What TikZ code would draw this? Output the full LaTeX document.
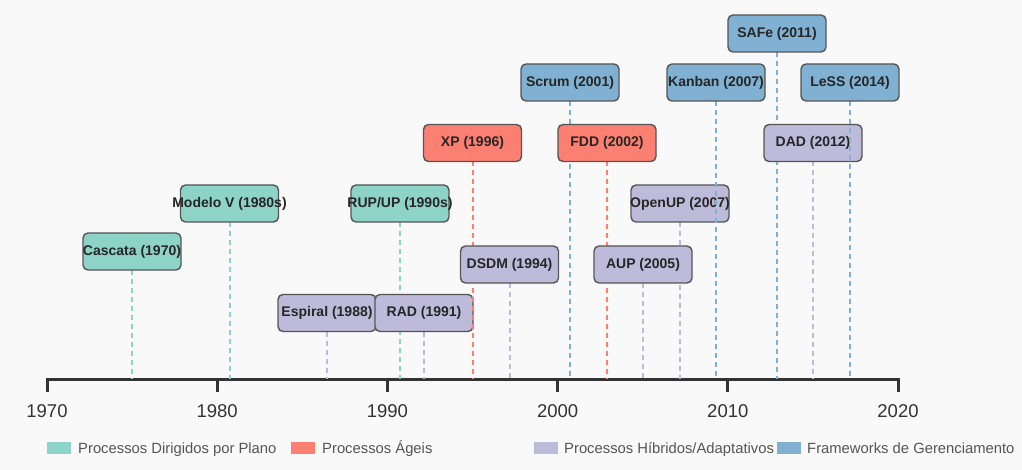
\documentclass[tikz,border=0pt]{standalone}
\usepackage{fontspec}
\setmainfont{Liberation Sans}
\definecolor{cplan}{HTML}{8DD3C7}
\definecolor{cagil}{HTML}{FB8072}
\definecolor{chib}{HTML}{BEBADA}
\definecolor{cfw}{HTML}{80B1D3}
\definecolor{cbg}{HTML}{F9F9F9}
\definecolor{cbord}{HTML}{555555}
\definecolor{caxis}{HTML}{333333}
\definecolor{clegtext}{HTML}{555555}
\tikzset{
  evbox/.style={draw=cbord, line width=1.4pt, rounded corners=5pt, minimum width=98pt, minimum height=37pt, inner sep=0pt, text=black!85, font=\fontsize{14}{16}\selectfont\bfseries},
  evline/.style={line width=2pt, dash pattern=on 5pt off 4pt},
  ticklab/.style={font=\fontsize{18.5}{20}\selectfont, text=caxis, inner sep=0pt},
  legsw/.style={minimum width=24pt, minimum height=12pt, inner sep=0pt, draw=none},
  legtxt/.style={anchor=base west, inner sep=0pt, text=clegtext, font=\fontsize{14.8}{16}\selectfont}
}
\newcommand{\evt}[5]{%
  \coordinate (#1a) at (#2,379);
  \draw[evline, draw=#4] (#2,#3) ++(0,18.5) coordinate (#1b) (#1b) -- (#1a);
  \node[evbox, fill=#4] (#1) at (#2,#3) {\makebox[0pt]{#5}};
}
\begin{document}
\begin{tikzpicture}[x=1pt,y=-1pt]
\fill[cbg] (0,0) rectangle (1022,470);
\useasboundingbox (0,0) rectangle (1022,470);
% axis
\coordinate (ax0) at (47,379);
\coordinate (ax1) at (898,379);
\draw[caxis, line width=3pt, line join=miter] (47,392) -- (ax0) -- (ax1) -- (898,392);
\foreach \i/\yr in {0/1970,1/1980,2/1990,3/2000,4/2010,5/2020}{
  \pgfmathsetmacro{\xx}{47+170.2*\i}
  \draw[caxis, line width=3pt] (\xx,379) -- (\xx,392);
  \node[ticklab] (t\yr) at (\xx,411) {\yr};
}
% events
\evt{casc}{132}{251.5}{cplan}{Cascata (1970)}
\evt{modv}{229.5}{203.5}{cplan}{Modelo V (1980s)}
\evt{rup}{400}{203.5}{cplan}{RUP/UP (1990s)}
\evt{esp}{327}{313}{chib}{Espiral (1988)}
\evt{rad}{424}{313}{chib}{RAD (1991)}
\evt{xp}{472.5}{143}{cagil}{XP (1996)}
\evt{dsdm}{509.5}{264.5}{chib}{DSDM (1994)}
\evt{scrum}{570}{82.5}{cfw}{Scrum (2001)}
\evt{fdd}{607}{143}{cagil}{FDD (2002)}
\evt{aup}{643}{264.5}{chib}{AUP (2005)}
\evt{openup}{680}{203.5}{chib}{OpenUP (2007)}
\evt{kanban}{716}{82.5}{cfw}{Kanban (2007)}
\evt{safe}{777}{33.5}{cfw}{SAFe (2011)}
\evt{dad}{813}{143}{chib}{DAD (2012)}
\evt{less}{850}{82.5}{cfw}{LeSS (2014)}
% legend
\node[legsw, fill=cplan] (l1) at (59,448) {};
\node[legtxt] (l1t) at (78,453.3) {Processos Dirigidos por Plano};
\node[legsw, fill=cagil] (l2) at (302.5,448) {};
\node[legtxt] (l2t) at (322,453.3) {Processos Ágeis};
\node[legsw, fill=chib] (l3) at (545.5,448) {};
\node[legtxt] (l3t) at (564,453.3) {Processos Híbridos/Adaptativos};
\node[legsw, fill=cfw] (l4) at (789,448) {};
\node[legtxt] (l4t) at (807,453.3) {Frameworks de Gerenciamento};
\end{tikzpicture}
\end{document}
